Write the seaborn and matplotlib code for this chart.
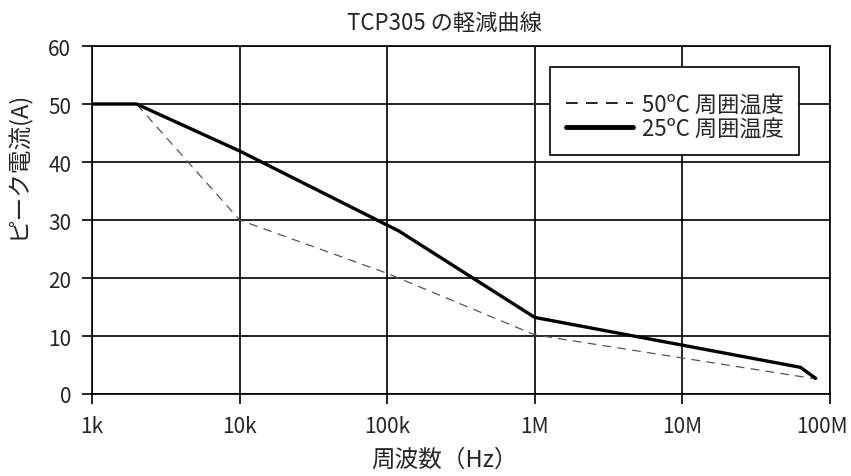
import matplotlib
matplotlib.use("Agg")
import matplotlib.pyplot as plt
import matplotlib.transforms as mtransforms
import seaborn as sns
import pandas as pd
from matplotlib.ticker import FixedLocator, NullLocator

# values (frequency in Hz, peak current in A)
freq_25c = [1e3, 2.0e3, 1e4, 1.2e5, 1e6, 6.3e7, 8.0e7]
amps_25c = [50, 50, 41.9, 28.1, 13.2, 4.6, 2.7]
freq_50c = [1e3, 2.0e3, 1e4, 1e5, 1e6, 8.0e7]
amps_50c = [50, 50, 30.0, 20.8, 10.2, 2.6]

tick_freqs = [1e3, 1e4, 1e5, 1e6, 1e7, 1e8]
tick_names = ["1k", "10k", "100k", "1M", "10M", "100M"]

df50 = pd.DataFrame({"f": freq_50c, "a": amps_50c})
df25 = pd.DataFrame({"f": freq_25c, "a": amps_25c})

sns.set_style("white")
plt.rcParams["font.family"] = ["Noto Sans CJK JP", "DejaVu Sans"]

fig = plt.figure(figsize=(8.51, 4.77), dpi=100)
ax = fig.add_axes([92 / 851, 1 - 395 / 477, (830 - 92) / 851, (395 - 47) / 477])

sns.lineplot(data=df50, x="f", y="a", ax=ax, color="#555555", lw=0.9,
             label="50ºC 周囲温度")
ax.lines[-1].set_dashes([7, 5])
sns.lineplot(data=df25, x="f", y="a", ax=ax, color="black", lw=2.4,
             label="25ºC 周囲温度")

ax.set_xscale("log")
ax.set_xlim(1e3, 1e8)
ax.set_ylim(0, 60)
ax.xaxis.set_major_locator(FixedLocator(tick_freqs))
ax.xaxis.set_minor_locator(NullLocator())
ax.set_xticklabels(tick_names)
ax.set_yticks(range(0, 61, 10))
ax.grid(True, color="black", lw=1.2)
for s in ax.spines.values():
    s.set_color("black")
    s.set_linewidth(1.2)
ax.tick_params(direction="out", length=7, width=1.2, color="black",
               labelsize=15, pad=8, left=True, bottom=True)

# last tick label sits a bit left so it stays inside the figure
last = ax.get_xticklabels()[-1]
last.set_transform(last.get_transform() +
                   mtransforms.ScaledTranslation(-0.08, 0, fig.dpi_scale_trans))

ax.set_title("TCP305 の軽減曲線", fontsize=16, pad=12, x=0.477)
ax.set_xlabel("周波数（Hz）", fontsize=17)
ax.xaxis.set_label_coords(0.477, -0.155)
ax.set_ylabel("ピーク電流(A)", fontsize=17)
ax.yaxis.set_label_coords(-0.084, 0.66)

leg = ax.legend(loc="upper right", bbox_to_anchor=(0.958, 0.94), fontsize=16,
                title=" ", title_fontsize=6, borderaxespad=0,
                frameon=True, fancybox=False, framealpha=1, handlelength=3.0,
                borderpad=0.7, labelspacing=0.05, handletextpad=0.4)
leg.get_frame().set_edgecolor("black")
leg.get_frame().set_linewidth(1.2)
leg.get_lines()[0].set_color("black")
leg.get_lines()[0].set_linewidth(1.2)
leg.get_lines()[1].set_linewidth(3.5)

fig.savefig("out.png", dpi=100)
